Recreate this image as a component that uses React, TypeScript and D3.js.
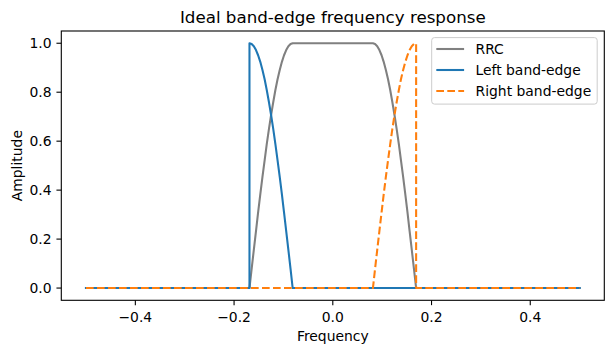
import React from "react";
import * as d3 from "d3";

// ---- Data ----
// roll-off frequencies (left side, ascending) and the mirrored right side
const edgeFreqL = [-0.1688, -0.1644, -0.1600, -0.1556, -0.1513, -0.1469, -0.1425, -0.1381, -0.1338, -0.1294, -0.1250,
  -0.1206, -0.1163, -0.1119, -0.1075, -0.1031, -0.0988, -0.0944, -0.0900, -0.0856, -0.0813];
const edgeFreqR = [0.0813, 0.0856, 0.0900, 0.0944, 0.0988, 0.1031, 0.1075, 0.1119, 0.1163, 0.1206, 0.1250,
  0.1294, 0.1338, 0.1381, 0.1425, 0.1469, 0.1513, 0.1556, 0.1600, 0.1644, 0.1688];
// rising roll-off amplitudes (0 -> 1)
const riseAmp = [0, 0.078, 0.156, 0.233, 0.309, 0.383, 0.454, 0.522, 0.588, 0.649, 0.707,
  0.760, 0.809, 0.853, 0.891, 0.924, 0.951, 0.972, 0.988, 0.997, 1];
// falling roll-off amplitudes (1 -> 0)
const fallAmp = [1, 0.997, 0.988, 0.972, 0.951, 0.924, 0.891, 0.853, 0.809, 0.760, 0.707,
  0.649, 0.588, 0.522, 0.454, 0.383, 0.309, 0.233, 0.156, 0.078, 0];

const rrcFreq = [-0.5, ...edgeFreqL, ...edgeFreqR, 0.5];
const rrcAmp = [0, ...riseAmp, ...fallAmp, 0];

const leftFreq = [-0.5, -0.1688, ...edgeFreqL, 0.5];
const leftAmp = [0, 0, ...fallAmp, 0];

const rightFreq = [-0.5, ...edgeFreqR, 0.1688, 0.5];
const rightAmp = [0, ...riseAmp, 0, 0];

const xTicks = [-0.4, -0.2, 0.0, 0.2, 0.4];
const yTicks = [0.0, 0.2, 0.4, 0.6, 0.8, 1.0];
const seriesNames = ["RRC", "Left band-edge", "Right band-edge"];
const titleText = "Ideal band-edge frequency response";
const xLabelText = "Frequency";
const yLabelText = "Amplitude";

const W = 613;
const H = 353;
const left = 61.3;
const right = 604.3;
const top = 31;
const bottom = 300.3;

const FONT = "DejaVu Sans, sans-serif";
const GRAY = "#808080";
const BLUE = "#1f77b4";
const ORANGE = "#ff7f0e";

const fmt = (v: number) => {
  const s = v.toFixed(1);
  return s.startsWith("-") ? "\u2212" + s.slice(1) : s;
};

export default function App() {
  const x = d3.scaleLinear().domain([-0.55, 0.55]).range([left, right]);
  const y = d3.scaleLinear().domain([-0.05, 1.05]).range([bottom, top]);

  const mk = (fx: number[], fy: number[]) =>
    d3.line<number>().x((_, i) => x(fx[i])).y((_, i) => y(fy[i])).curve(d3.curveLinear)(fx.map((_, i) => i)) || "";

  const series = [
    { d: mk(rrcFreq, rrcAmp), color: GRAY, dash: undefined as string | undefined },
    { d: mk(leftFreq, leftAmp), color: BLUE, dash: undefined },
    { d: mk(rightFreq, rightAmp), color: ORANGE, dash: "7.7,3.3" },
  ];

  const legX = 431.7, legY = 37.6, legW = 165.5, legH = 66.5;

  return (
    <svg width={W} height={H} style={{ position: "absolute", left: 0, top: 0, background: "#fff" }}
      fontFamily={FONT}>
      <rect x={0} y={0} width={W} height={H} fill="#fff" />
      <defs>
        <clipPath id="clip">
          <rect x={left} y={top} width={right - left} height={bottom - top} />
        </clipPath>
      </defs>
      <g clipPath="url(#clip)">
        {series.map((s, i) => (
          <path key={i} d={s.d} fill="none" stroke={s.color} strokeWidth={2.08}
            strokeDasharray={s.dash} strokeLinejoin="round" strokeLinecap={s.dash ? "butt" : "square"} />
        ))}
      </g>
      {/* spines */}
      <rect x={left} y={top} width={right - left} height={bottom - top} fill="none" stroke="#000" strokeWidth={1.1} />
      {/* x ticks */}
      {xTicks.map((t) => (
        <g key={"x" + t}>
          <line x1={x(t)} x2={x(t)} y1={bottom} y2={bottom + 4.86} stroke="#000" strokeWidth={1.1} />
          <text x={x(t)} y={321.7} textAnchor="middle" fontSize={13.9} fill="#000">{fmt(t)}</text>
        </g>
      ))}
      {/* y ticks */}
      {yTicks.map((t) => (
        <g key={"y" + t}>
          <line x1={left - 4.86} x2={left} y1={y(t)} y2={y(t)} stroke="#000" strokeWidth={1.1} />
          <text x={51.6} y={y(t) + 5} textAnchor="end" fontSize={13.9} fill="#000">{fmt(t)}</text>
        </g>
      ))}
      <text x={(left + right) / 2} y={340.8} textAnchor="middle" fontSize={13.9} fill="#000">{xLabelText}</text>
      <text transform={`translate(21.8,${(top + bottom) / 2}) rotate(-90)`} textAnchor="middle" fontSize={13.9} fill="#000">{yLabelText}</text>
      <text x={(left + right) / 2} y={22.7} textAnchor="middle" fontSize={16.7} fill="#000">{titleText}</text>
      {/* legend */}
      <rect x={legX} y={legY} width={legW} height={legH} rx={2.8} ry={2.8} fill="#fff" fillOpacity={0.8}
        stroke="#cccccc" strokeWidth={1} />
      {seriesNames.map((n, i) => {
        const cy = 49 + i * 21;
        const s = series[i];
        return (
          <g key={n}>
            <line x1={436.3} x2={464.1} y1={cy} y2={cy} stroke={s.color} strokeWidth={2.08} strokeDasharray={s.dash} />
            <text x={475.5} y={cy + 5} fontSize={13.9} fill="#000">{n}</text>
          </g>
        );
      })}
    </svg>
  );
}
